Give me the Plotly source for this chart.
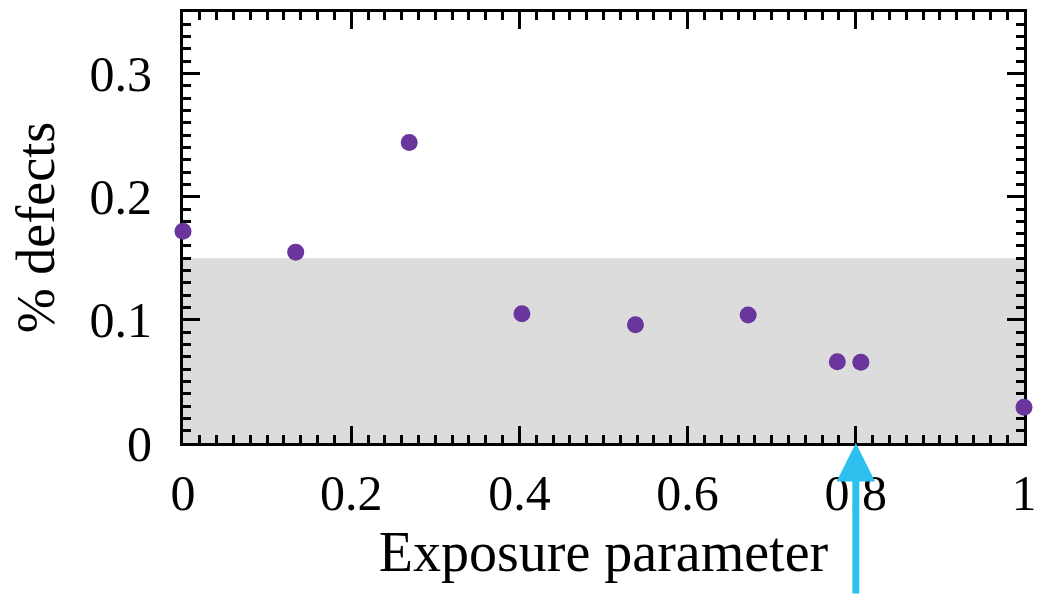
import plotly.graph_objects as go

# Data
exposure = [0.0, 0.134, 0.269, 0.403, 0.538, 0.672, 0.778, 0.806, 1.0]
defects = [0.172, 0.155, 0.244, 0.105, 0.096, 0.104, 0.066, 0.0655, 0.029]
band_low, band_high = 0.0, 0.15
arrow_x = 0.8

x_tickvals = [0, 0.2, 0.4, 0.6, 0.8, 1]
x_ticktext = ["0", "0.2", "0.4", "0.6", "0.8", "1"]
y_tickvals = [0, 0.1, 0.2, 0.3]
y_ticktext = ["0", "0.1", "0.2", "0.3"]

FONT = "Liberation Serif"

fig = go.Figure()
fig.add_trace(go.Scatter(
    x=exposure, y=defects, mode="markers",
    marker=dict(size=17, color="#6a359c", line=dict(width=0)),
    cliponaxis=False, showlegend=False,
))

fig.add_shape(type="rect", xref="x", yref="y", x0=0, x1=1, y0=band_low, y1=band_high,
              fillcolor="#dcdcdc", line=dict(width=0), layer="below")

fig.add_annotation(x=arrow_x, y=0, xref="x", yref="y", ax=0, ay=152, axref="pixel", ayref="pixel",
                   text="", showarrow=True, arrowhead=2, arrowsize=1.1, arrowwidth=7,
                   arrowcolor="#2dc0ee", standoff=0)

axis_common = dict(
    showline=True, linecolor="black", linewidth=3, mirror="ticks",
    ticks="inside", ticklen=17, tickwidth=2.5, tickcolor="black",
    showgrid=False, zeroline=False, layer="below traces",
    tickfont=dict(family=FONT, size=50, color="black"),
    ticklabeloverflow="allow",
)

fig.update_xaxes(
    range=[0, 1], tickmode="array", tickvals=x_tickvals, ticktext=x_ticktext,
    minor=dict(dtick=0.02, tick0=0, ticks="inside", ticklen=8, tickwidth=2.5, tickcolor="black", showgrid=False),
    title=dict(text="Exposure parameter", font=dict(family=FONT, size=56, color="black"), standoff=8),
    ticklabelstandoff=4,
    **axis_common,
)
fig.update_yaxes(
    range=[0, 0.35], tickmode="array", tickvals=y_tickvals, ticktext=y_ticktext,
    minor=dict(dtick=0.01, tick0=0, ticks="inside", ticklen=8, tickwidth=2.5, tickcolor="black", showgrid=False),
    title=dict(text="% defects", font=dict(family=FONT, size=54, color="black"), standoff=18),
    ticklabelstandoff=18,
    **axis_common,
)

fig.update_layout(
    width=1037, height=595,
    margin=dict(l=183, r=13, t=12, b=152, autoexpand=False),
    paper_bgcolor="white", plot_bgcolor="white",
)

fig.write_html("out.html")
